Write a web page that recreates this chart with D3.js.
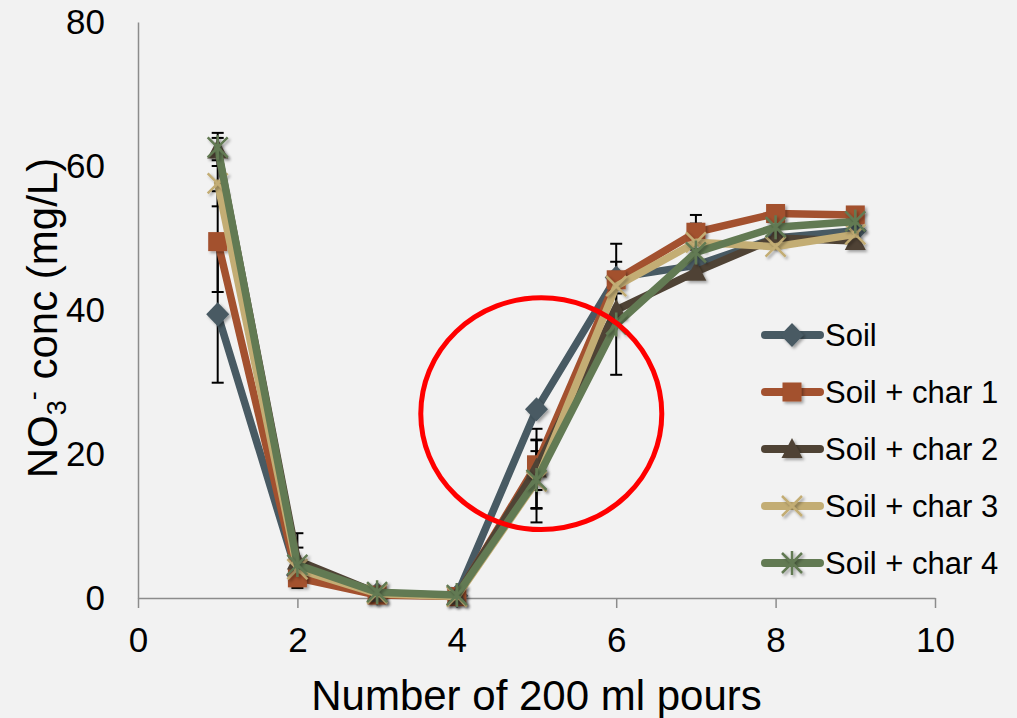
<!DOCTYPE html>
<html><head><meta charset="utf-8">
<script src="https://cdn.jsdelivr.net/npm/d3@7"></script>
<style>
html,body{margin:0;padding:0;background:#f2f2f2;}
svg{display:block;font-family:"Liberation Sans",Arial,sans-serif;}
</style></head>
<body>
<svg id="chart" width="1017" height="718"></svg>
<script>
const pours = [1, 2, 3, 4, 5, 6, 7, 8, 9];
const seriesNames = ["Soil", "Soil + char 1", "Soil + char 2", "Soil + char 3", "Soil + char 4"];
const soil  = [39.4, 3.2, 0.6, 0.3, 26.2, 44.5, 46.2, 50.0, 51.0];
const char1 = [49.5, 2.8, 0.4, 0.2, 18.5, 44.2, 50.8, 53.4, 53.2];
const char2 = [62.3, 5.2, 0.7, 0.3, 18.0, 40.0, 45.3, 50.0, 49.6];
const char3 = [57.6, 4.0, 0.6, 0.2, 16.2, 43.3, 49.4, 48.8, 50.5];
const char4 = [62.6, 4.6, 0.8, 0.4, 16.4, 38.0, 48.0, 51.5, 52.3];
const soilErr  = [9.5, 0, 0, 0, 0, 2.2, 0, 0, 0];
const char1Err = [7.0, 0, 0, 0, 3.5, 5.0, 2.4, 0, 0];
const char2Err = [2.3, 3.8, 0, 0, 5.5, 0, 0, 0, 0];
const char3Err = [3.2, 0, 0, 0, 5.7, 0, 2.6, 0, 0];
const char4Err = [1.3, 2.4, 0, 0, 4.0, 7.0, 0, 0, 0];
const xTicks = [0, 2, 4, 6, 8, 10];
const yTicks = [0, 20, 40, 60, 80];
const highlight = {x: 5.06, y: 25.6, rx: 1.512, ry: 16.1};

const colors = ["#485a63", "#a3512f", "#4f4335", "#c3ad74", "#627a53"];
const markers = ["diamond", "square", "triangle", "x", "star"];
const values = [soil, char1, char2, char3, char4];
const errs = [soilErr, char1Err, char2Err, char3Err, char4Err];

const svg = d3.select("#chart");
const x = d3.scaleLinear().domain([0, 10]).range([138, 935]);
const y = d3.scaleLinear().domain([0, 80]).range([598, 22]);

const defs = svg.append("defs");
const f = defs.append("filter").attr("id", "sh").attr("x", "-50%").attr("y", "-50%").attr("width", "200%").attr("height", "200%");
f.append("feDropShadow").attr("dx", 2).attr("dy", 2).attr("stdDeviation", 1.5).attr("flood-color", "#000").attr("flood-opacity", 0.35);

// axes
const xAxis = svg.append("g").attr("transform", `translate(0,${y(0)})`)
  .call(d3.axisBottom(x).tickValues(xTicks).tickSize(10).tickSizeOuter(0).tickPadding(19).tickFormat(d3.format("d")));
xAxis.select(".domain").attr("stroke", "#8c8c8c").attr("stroke-width", 1.5);
xAxis.selectAll(".tick line").attr("stroke", "#8c8c8c").attr("stroke-width", 1.5);
xAxis.selectAll(".tick text").attr("font-size", 35).attr("fill", "#000").attr("font-family", "Liberation Sans, Arial, sans-serif");

const yAxis = svg.append("g").attr("transform", `translate(${x(0)},0)`)
  .call(d3.axisLeft(y).tickValues(yTicks).tickSize(0).tickPadding(33).tickFormat(d3.format("d")));
yAxis.select(".domain").attr("stroke", "#8c8c8c").attr("stroke-width", 1.5);
yAxis.selectAll(".tick text").attr("font-size", 35).attr("fill", "#000").attr("font-family", "Liberation Sans, Arial, sans-serif");

// axis titles
svg.append("text").attr("x", (x(0) + x(10)) / 2).attr("y", 710).attr("text-anchor", "middle")
  .attr("font-size", 42).attr("fill", "#000").text("Number of 200 ml pours");
const yt = svg.append("text").attr("transform", `translate(57,${(y(0) + y(80)) / 2 + 8}) rotate(-90)`)
  .attr("text-anchor", "middle").attr("font-size", 42).attr("fill", "#000");
yt.append("tspan").text("NO");
yt.append("tspan").attr("font-size", 27).attr("dy", 9).text("3");
yt.append("tspan").attr("font-size", 27).attr("dy", -24).text("-");
yt.append("tspan").attr("dy", 15).text(" conc (mg/L)");

function markerPath(type) {
  switch (type) {
    case "diamond": return "M0,-12L11.5,0L0,12L-11.5,0Z";
    case "square": return "M-9.5,-9.5H9.5V9.5H-9.5Z";
    case "triangle": return "M0,-11L10.5,9L-10.5,9Z";
    case "x": return "M-10,-10L10,10M10,-10L-10,10";
    case "star": return "M-10,-10L10,10M10,-10L-10,10M0,-12V12";
  }
}
function drawMarker(g, type, color) {
  const p = g.append("path").attr("d", markerPath(type)).attr("filter", "url(#sh)");
  if (type === "x" || type === "star") p.attr("fill", "none").attr("stroke", color).attr("stroke-width", 2.5);
  else p.attr("fill", color).attr("stroke", "none");
}

// error bars
const eb = svg.append("g").attr("stroke", "#000").attr("stroke-width", 2);
values.forEach((vals, si) => {
  pours.forEach((p, i) => {
    const e = errs[si][i];
    if (!e) return;
    const cx = x(p), y1 = y(vals[i] - e), y2 = y(vals[i] + e);
    eb.append("line").attr("x1", cx).attr("x2", cx).attr("y1", y1).attr("y2", y2);
    eb.append("line").attr("x1", cx - 6).attr("x2", cx + 6).attr("y1", y1).attr("y2", y1);
    eb.append("line").attr("x1", cx - 6).attr("x2", cx + 6).attr("y1", y2).attr("y2", y2);
  });
});

// series
const line = d3.line().x((d, i) => x(pours[i])).y(d => y(d));
values.forEach((vals, si) => {
  const g = svg.append("g");
  g.append("path").attr("d", line(vals)).attr("fill", "none").attr("stroke", colors[si])
    .attr("stroke-width", 7.5).attr("stroke-linejoin", "round").attr("stroke-linecap", "round");
  vals.forEach((v, i) => {
    const mg = g.append("g").attr("transform", `translate(${x(pours[i])},${y(v)})`);
    drawMarker(mg, markers[si], colors[si]);
  });
});

// highlight ellipse annotation
svg.append("ellipse").attr("cx", x(highlight.x)).attr("cy", y(highlight.y))
  .attr("rx", x(highlight.x + highlight.rx) - x(highlight.x))
  .attr("ry", y(highlight.y - highlight.ry) - y(highlight.y))
  .attr("fill", "none").attr("stroke", "#ff0000").attr("stroke-width", 5);

// legend
const legY = d3.scalePoint().domain(seriesNames).range([335, 563]);
seriesNames.forEach((name, si) => {
  const g = svg.append("g").attr("transform", `translate(0,${legY(name)})`);
  g.append("line").attr("x1", 765).attr("x2", 820).attr("y1", 0).attr("y2", 0)
    .attr("stroke", colors[si]).attr("stroke-width", 8).attr("stroke-linecap", "round");
  const mg = g.append("g").attr("transform", "translate(792,0)");
  drawMarker(mg, markers[si], colors[si]);
  g.append("text").attr("x", 825).attr("y", 11).attr("font-size", 31).attr("fill", "#000").text(name);
});
</script>
</body></html>
